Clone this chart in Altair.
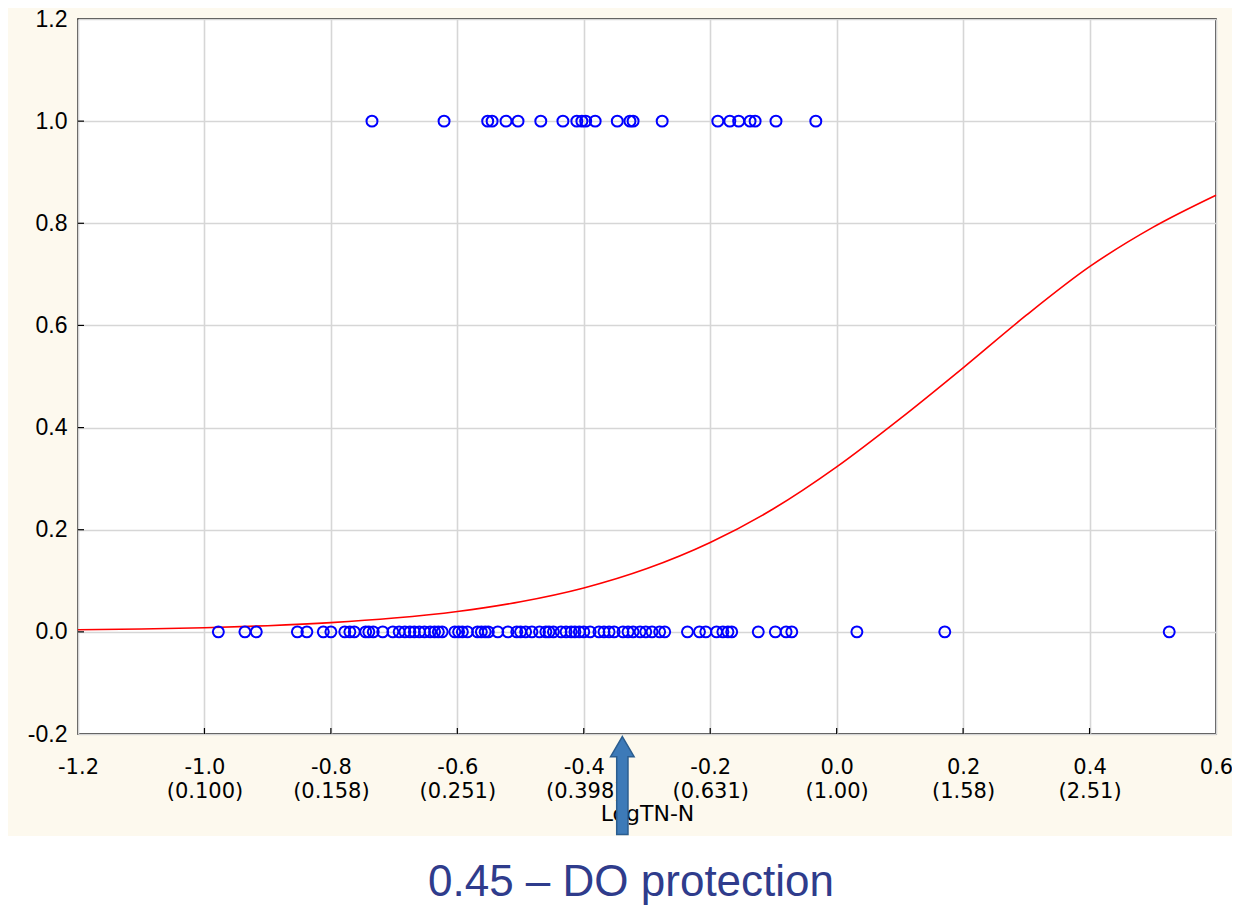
import altair as alt
import pandas as pd

# ---- data ----
x_event = [-0.735, -0.621, -0.552, -0.545, -0.523, -0.504, -0.468, -0.433, -0.411,
           -0.403, -0.397, -0.382, -0.347, -0.327, -0.322, -0.276, -0.188, -0.169,
           -0.155, -0.137, -0.129, -0.096, -0.033]
x_none = [-0.978, -0.936, -0.918, -0.853, -0.838, -0.812, -0.800, -0.778, -0.770, -0.763,
          -0.745, -0.740, -0.733, -0.718, -0.702, -0.692, -0.683, -0.675, -0.668, -0.660,
          -0.652, -0.643, -0.636, -0.630, -0.624, -0.604, -0.598, -0.592, -0.584, -0.568,
          -0.562, -0.556, -0.551, -0.536, -0.520, -0.506, -0.500, -0.492, -0.482, -0.470,
          -0.460, -0.455, -0.448, -0.436, -0.428, -0.420, -0.414, -0.407, -0.400, -0.390,
          -0.376, -0.368, -0.360, -0.352, -0.338, -0.330, -0.322, -0.311, -0.302, -0.292,
          -0.280, -0.272, -0.236, -0.217, -0.207, -0.190, -0.180, -0.172, -0.166, -0.124,
          -0.097, -0.080, -0.071, 0.032, 0.171, 0.526]

curve_x = [-1.2, -1.1, -1.0, -0.9, -0.8, -0.7, -0.6, -0.5, -0.4, -0.3,
           -0.2, -0.1, 0.0, 0.1, 0.2, 0.3, 0.4, 0.5, 0.6]
curve_p = [0.004, 0.0055, 0.008, 0.012, 0.018, 0.027, 0.040, 0.059, 0.086, 0.124,
           0.175, 0.241, 0.323, 0.417, 0.517, 0.620, 0.715, 0.792, 0.855]

xtick_vals = [-1.2, -1.0, -0.8, -0.6, -0.4, -0.2, 0.0, 0.2, 0.4, 0.6]
xtick_top = ["-1.2", "-1.0", "-0.8", "-0.6", "-0.4", "-0.2", "0.0", "0.2", "0.4", "0.6"]
xtick_bottom = ["", "(0.100)", "(0.158)", "(0.251)", "(0.398)", "(0.631)", "(1.00)",
                "(1.58)", "(2.51)", ""]
ytick_vals = [-0.2, 0.0, 0.2, 0.4, 0.6, 0.8, 1.0, 1.2]
ytick_labels = ["-0.2", "0.0", "0.2", "0.4", "0.6", "0.8", "1.0", "1.2"]

arrow_x = [-0.339]
arrow_y = [-0.301]
x_title = "LogTN-N"
bottom_text = "0.45 \u2013 DO protection"

# ---- layout ----
W, H = 1138, 715
XD = [-1.2, 0.6]
YD = [-0.2, 1.2]

pts = pd.DataFrame({"x": x_event + x_none,
                    "y": [1.0] * len(x_event) + [0.0] * len(x_none)})
curve = pd.DataFrame({"x": curve_x, "p": curve_p})
xt = pd.DataFrame({"v": xtick_vals[1:-1]})
yt = pd.DataFrame({"v": ytick_vals[1:-1]})
arrow = pd.DataFrame({"x": arrow_x, "y": arrow_y})
one = pd.DataFrame({"t": [bottom_text]})

x_expr = "[" + ",".join("['%s','%s']" % (a, b) for a, b in zip(xtick_top, xtick_bottom)) + \
         "][round((datum.value - (%s)) / 0.2)]" % xtick_vals[0]
y_expr = "[" + ",".join("'%s'" % s for s in ytick_labels) + \
         "][round((datum.value - (%s)) / 0.2)]" % ytick_vals[0]

xscale = alt.Scale(domain=XD, nice=False, zero=False)
yscale = alt.Scale(domain=YD, nice=False, zero=False)

xaxis = alt.Axis(values=xtick_vals, labelExpr=x_expr, labelFont="DejaVu Sans",
                 labelFontSize=21, labelLineHeight=24, labelPadding=22, labelColor="black",
                 labelBaseline="top", labelFlush=False, labelOverlap=False, labelBound=False,
                 ticks=False, tickSize=0, domain=False, grid=True, gridColor="#d6d6d6",
                 gridWidth=1.6, title=x_title, titleFont="DejaVu Sans", titleFontSize=22,
                 titleFontWeight="normal", titleColor="black", titleY=86,
                 titleBaseline="alphabetic")
yaxis = alt.Axis(values=ytick_vals, labelExpr=y_expr, labelFont="Liberation Sans",
                 labelFontSize=23, labelPadding=11, labelColor="black", labelFlush=False,
                 labelOverlap=False, ticks=False, tickSize=0, domain=False, grid=True,
                 gridColor="#d6d6d6", gridWidth=1.6, title=None)

band = alt.Chart(one).mark_rect(color="white").encode(
    x=alt.value(-80), x2=alt.value(1180), y=alt.value(817), y2=alt.value(900))

base_pts = alt.Chart(pts).mark_point(shape="circle", filled=False, color="#0000ff",
                                     size=120, strokeWidth=2, opacity=1).encode(
    x=alt.X("x:Q", scale=xscale, axis=xaxis),
    y=alt.Y("y:Q", scale=yscale, axis=yaxis))

line = alt.Chart(curve).mark_line(color="#ff0000", strokeWidth=1.6,
                                  interpolate="monotone").encode(
    x=alt.X("x:Q", scale=xscale), y=alt.Y("p:Q", scale=yscale))

xticks = alt.Chart(xt).mark_rule(color="black", strokeWidth=1.2).encode(
    x=alt.X("v:Q", scale=xscale), y=alt.value(H), y2=alt.value(H - 6))
yticks = alt.Chart(yt).mark_rule(color="black", strokeWidth=1.2).encode(
    y=alt.Y("v:Q", scale=yscale), x=alt.value(0), x2=alt.value(6))

arrow_path = ("M0,-1 L0.24,-0.59 L0.115,-0.59 L0.115,1 L-0.115,1 L-0.115,-0.59 "
              "L-0.24,-0.59 Z")
arr = alt.Chart(arrow).mark_point(shape=arrow_path, filled=True, fill="#3d7ab8",
                                  stroke="#2b5d8f", strokeWidth=1.5, size=9604,
                                  opacity=1).encode(
    x=alt.X("x:Q", scale=xscale), y=alt.Y("y:Q", scale=yscale))

txt = alt.Chart(one).mark_text(font="Liberation Sans", fontSize=44, color="#2f3c8c",
                               align="center", baseline="alphabetic").encode(
    text="t:N", x=alt.value(553), y=alt.value(877))

chart = alt.layer(band, xticks, yticks, line, base_pts, arr, txt).properties(
    width=W, height=H,
    padding={"left": 70, "top": 11, "right": 16, "bottom": 175},
    autosize=alt.AutoSizeParams(type="none"),
).configure(background="#fdf9ee").configure_view(
    stroke="black", strokeWidth=1.5, fill="white")

chart.save("out.html", embed_options={"renderer": "svg", "actions": False})
